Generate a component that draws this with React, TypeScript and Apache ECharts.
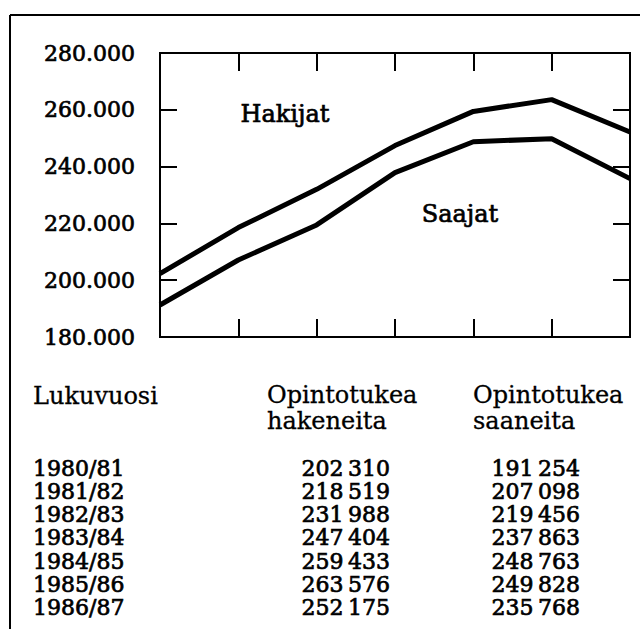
import React, { useEffect, useRef } from "react";
import * as echarts from "echarts";

const years = ["1980/81", "1981/82", "1982/83", "1983/84", "1984/85", "1985/86", "1986/87"];
const hakijat = [202310, 218519, 231988, 247404, 259433, 263576, 252175];
const saajat = [191254, 207098, 219456, 237863, 248763, 249828, 235768];
const yMin = 180000;
const yMax = 280000;
const yStep = 20000;
const seriesNames = ["Hakijat", "Saajat"];
const tableHeaders = ["Lukuvuosi", "Opintotukea\nhakeneita", "Opintotukea\nsaaneita"];

const FONT = "DejaVu Serif";

function fmt(n: number): string {
  const s = String(n);
  return s.slice(0, s.length - 3) + "\u2009" + s.slice(s.length - 3);
}

export default function App() {
  const ref = useRef<HTMLDivElement>(null);
  useEffect(() => {
    document.body.style.margin = "0";
    const chart = echarts.init(ref.current!, undefined, { renderer: "svg" });
    const rowY0 = 468;
    const rowStep = 23.3;
    const heavy = { stroke: "#000", lineWidth: 0.7 };
    const textStyle = { fontFamily: FONT, fontSize: 22, fill: "#000", ...heavy };
    const labelStyle = { fontFamily: FONT, fontSize: 24, fill: "#000", ...heavy };
    const headStyle = { fontFamily: FONT, fontSize: 24, fill: "#000", stroke: "#000", lineWidth: 0.3 };
    const graphics: any[] = [
      { type: "line", shape: { x1: 10, y1: 15, x2: 640, y2: 15 }, style: { stroke: "#000", lineWidth: 2 } },
      { type: "line", shape: { x1: 10, y1: 15, x2: 10, y2: 629 }, style: { stroke: "#000", lineWidth: 2 } },
      { type: "text", x: 285, y: 114, style: { ...labelStyle, text: seriesNames[0], textAlign: "center", textVerticalAlign: "middle" } },
      { type: "text", x: 460, y: 214, style: { ...labelStyle, text: seriesNames[1], textAlign: "center", textVerticalAlign: "middle" } },
      { type: "text", x: 33, y: 396, style: { ...headStyle, text: tableHeaders[0], textVerticalAlign: "middle" } },
      { type: "text", x: 267, y: 382, style: { ...headStyle, text: tableHeaders[1], lineHeight: 26, textVerticalAlign: "top" } },
      { type: "text", x: 473, y: 382, style: { ...headStyle, text: tableHeaders[2], lineHeight: 26, textVerticalAlign: "top" } },
    ];
    years.forEach((yr, i) => {
      const y = rowY0 + i * rowStep;
      graphics.push({ type: "text", x: 33, y, style: { ...textStyle, text: yr, textVerticalAlign: "middle" } });
      graphics.push({ type: "text", x: 390, y, style: { ...textStyle, text: fmt(hakijat[i]), textAlign: "right", textVerticalAlign: "middle" } });
      graphics.push({ type: "text", x: 580, y, style: { ...textStyle, text: fmt(saajat[i]), textAlign: "right", textVerticalAlign: "middle" } });
    });
    const xBase = {
      type: "category",
      data: years,
      boundaryGap: false,
      axisLine: { show: false },
      axisLabel: { show: false },
      axisTick: { show: true, inside: true, length: 18, lineStyle: { color: "#000", width: 2 } },
      splitLine: { show: false },
    };
    const yBase = {
      type: "value",
      min: yMin,
      max: yMax,
      interval: yStep,
      axisLine: { show: false },
      axisTick: { show: true, inside: true, length: 17, lineStyle: { color: "#000", width: 2 } },
      splitLine: { show: false },
    };
    chart.setOption({
      animation: false,
      backgroundColor: "#fff",
      grid: { left: 160, right: 10, top: 53, bottom: 292, show: true, borderColor: "#000", borderWidth: 2, backgroundColor: "transparent" },
      xAxis: [
        { ...xBase, position: "bottom" },
        { ...xBase, position: "top" },
      ],
      yAxis: [
        {
          ...yBase,
          position: "left",
          axisLabel: {
            show: true,
            margin: 25,
            color: "#000",
            fontFamily: FONT,
            fontSize: 22,
            textBorderColor: "#000",
            textBorderWidth: 0.7,
            formatter: (v: number) => v / 1000 + ".000",
          },
        },
        { ...yBase, position: "right", axisLabel: { show: false } },
      ],
      series: [
        { name: seriesNames[0], type: "line", data: hakijat, symbol: "none", lineStyle: { color: "#000", width: 5 }, itemStyle: { color: "#000" } },
        { name: seriesNames[1], type: "line", data: saajat, symbol: "none", lineStyle: { color: "#000", width: 5 }, itemStyle: { color: "#000" } },
      ],
      graphic: graphics,
    });
    return () => chart.dispose();
  }, []);
  return <div ref={ref} style={{ width: 640, height: 629 }} />;
}
